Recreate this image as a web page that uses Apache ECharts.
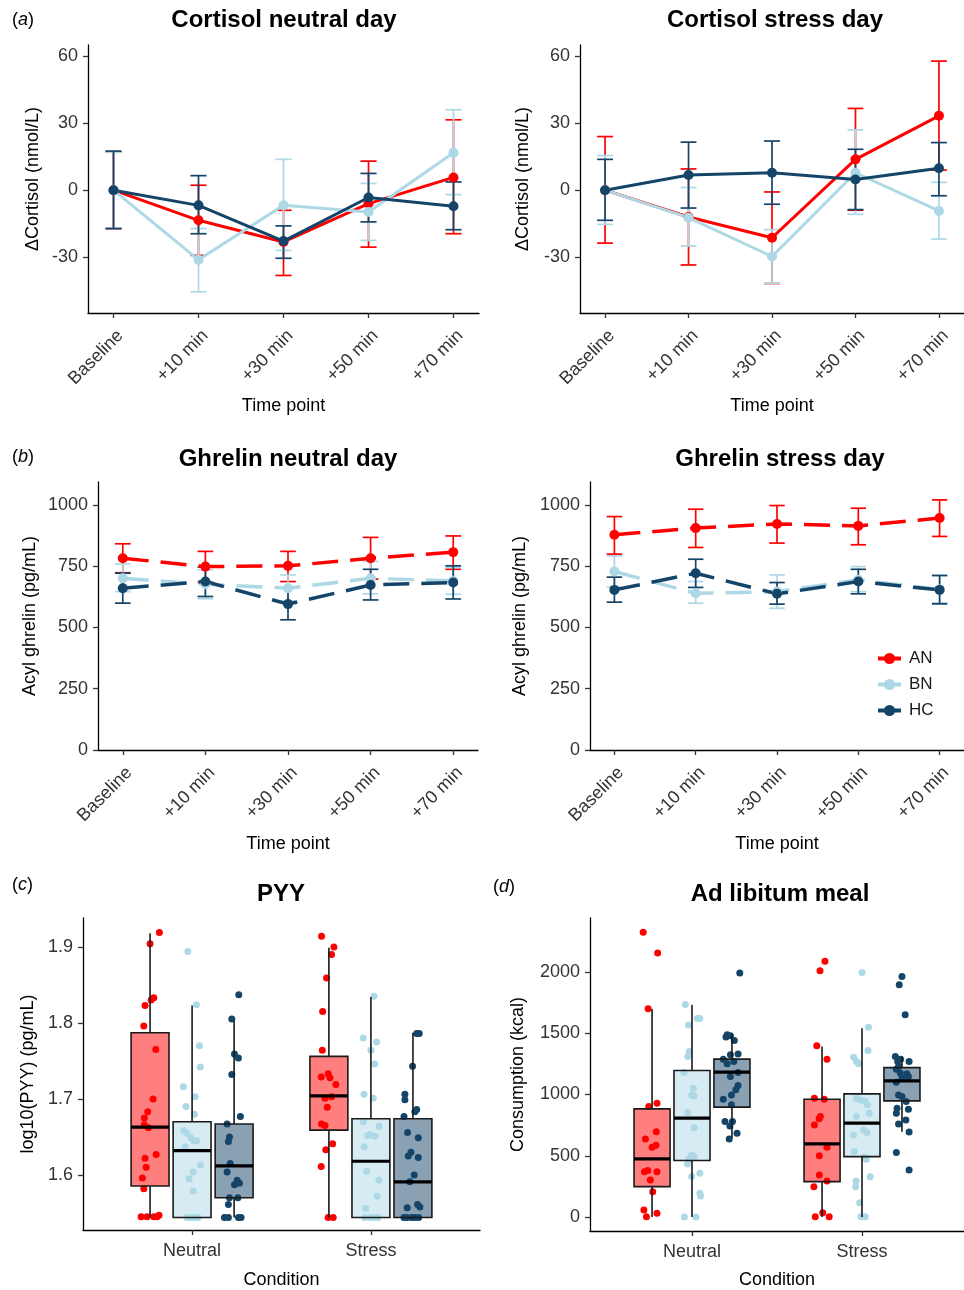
<!DOCTYPE html>
<html><head><meta charset="utf-8">
<script src="https://cdn.jsdelivr.net/npm/echarts@6/dist/echarts.min.js"></script>
<style>html,body{margin:0;padding:0;background:#fff}#c{width:964px;height:1290px}</style>
</head><body><div id="c"></div>
<script>
// ---------- categories / ticks ----------
const timepoints = ['Baseline', '+10 min', '+30 min', '+50 min', '+70 min'];
const conditions = ['Neutral', 'Stress'];
const groups = ['AN', 'BN', 'HC'];
const cortTicks = [-30, 0, 30, 60];
const ghrelinTicks = [0, 250, 500, 750, 1000];
const pyyTicks = [1.6, 1.7, 1.8, 1.9];
const mealTicks = [0, 500, 1000, 1500, 2000];

// ---------- (a) Cortisol neutral day: mean, lower, upper ----------
const cortNeutral_AN    = [0, -13.5, -23.2, -6, 5.7];
const cortNeutral_AN_lo = [-17.2, -29.2, -38.2, -25.5, -19.5];
const cortNeutral_AN_hi = [17, 2.2, -9, 13, 31.5];
const cortNeutral_BN    = [0, -31.2, -6.8, -9.8, 16.8];
const cortNeutral_BN_lo = [-17, -45.5, -27, -22.5, -2];
const cortNeutral_BN_hi = [17, -17.2, 13.8, 3, 36];
const cortNeutral_HC    = [0, -6.8, -22.8, -3.3, -7.2];
const cortNeutral_HC_lo = [-17.2, -19.5, -30.5, -14.2, -17.7];
const cortNeutral_HC_hi = [17.5, 6.5, -16, 7.5, 3.7];
// ---------- (a) Cortisol stress day ----------
const cortStress_AN    = [0, -12, -21.3, 13.8, 33.3];
const cortStress_AN_lo = [-23.7, -33.5, -41.8, -9, 9];
const cortStress_AN_hi = [24, 9.5, -0.8, 36.6, 57.8];
const cortStress_BN    = [0, -12.3, -29.7, 7.8, -9.3];
const cortStress_BN_lo = [-15.3, -25, -41.7, -10.8, -21.9];
const cortStress_BN_hi = [15.5, 1.2, -17.7, 27, 3.5];
const cortStress_HC    = [0, 6.8, 7.8, 4.8, 9.8];
const cortStress_HC_lo = [-13.5, -8, -6.3, -8.7, -2.5];
const cortStress_HC_hi = [13.8, 21.5, 22, 18.3, 21.3];
// ---------- (b) Ghrelin neutral day ----------
const ghrNeutral_AN    = [782, 748, 751, 782, 807];
const ghrNeutral_AN_lo = [723, 684, 687, 697, 737];
const ghrNeutral_AN_hi = [841, 810, 810, 867, 873];
const ghrNeutral_BN    = [700, 676, 660, 700, 690];
const ghrNeutral_BN_lo = [646, 617, 608, 637, 635];
const ghrNeutral_BN_hi = [759, 735, 714, 769, 745];
const ghrNeutral_HC    = [660, 687, 595, 673, 683];
const ghrNeutral_HC_lo = [599, 626, 531, 612, 616];
const ghrNeutral_HC_hi = [721, 746, 660, 737, 751];
// ---------- (b) Ghrelin stress day ----------
const ghrStress_AN    = [878, 905, 922, 914, 946];
const ghrStress_AN_lo = [799, 826, 844, 837, 871];
const ghrStress_AN_hi = [952, 982, 997, 986, 1020];
const ghrStress_BN    = [728, 639, 646, 694, 655];
const ghrStress_BN_lo = [664, 599, 578, 646, 600];
const ghrStress_BN_hi = [792, 687, 714, 748, 710];
const ghrStress_HC    = [653, 721, 637, 687, 653];
const ghrStress_HC_lo = [603, 663, 595, 637, 596];
const ghrStress_HC_hi = [705, 778, 683, 737, 712];

// ---------- (c) PYY boxplots: [lower whisker, Q1, median, Q3, upper whisker] per condition ----------
const pyyBox_AN = [[1.544, 1.5855, 1.663, 1.787, 1.918], [1.544, 1.659, 1.704, 1.756, 1.899]];
const pyyBox_BN = [[1.544, 1.544, 1.632, 1.670, 1.823], [1.544, 1.544, 1.618, 1.674, 1.834]];
const pyyBox_HC = [[1.544, 1.570, 1.612, 1.667, 1.803], [1.544, 1.544, 1.591, 1.674, 1.787]];
// jittered points: [jitter (category units), value]
const pyyPts_AN_neutral = [[0.052,1.919],[0,1.904],[0.021,1.833],[0.006,1.830],[-0.028,1.823],[-0.035,1.796],[0.032,1.765],[0.017,1.700],[-0.013,1.683],[-0.032,1.675],[-0.032,1.666],[-0.009,1.662],[0.034,1.627],[-0.028,1.622],[-0.022,1.610],[-0.043,1.596],[-0.035,1.582],[-0.05,1.545],[-0.017,1.545],[0.021,1.545],[0.039,1.545],[0.05,1.547]];
const pyyPts_BN_neutral = [[-0.024,1.894],[0.024,1.824],[0.041,1.770],[0.046,1.742],[-0.049,1.716],[0.017,1.703],[-0.034,1.690],[0.013,1.680],[-0.046,1.658],[-0.028,1.655],[0.009,1.645],[0.026,1.645],[-0.007,1.649],[-0.039,1.637],[0.046,1.613],[0.006,1.604],[-0.017,1.595],[0.006,1.579],[-0.028,1.544],[-0.006,1.544],[0.017,1.544],[0.034,1.544]];
const pyyPts_HC_neutral = [[0.026,1.837],[-0.013,1.805],[0.002,1.759],[0.024,1.754],[-0.013,1.732],[0.035,1.677],[-0.039,1.667],[-0.026,1.650],[-0.032,1.644],[-0.022,1.615],[-0.039,1.604],[0.017,1.593],[0.03,1.589],[0.002,1.587],[-0.026,1.570],[0.021,1.570],[-0.032,1.561],[-0.054,1.544],[-0.032,1.544],[0.024,1.544],[0.039,1.544]];
const pyyPts_AN_stress = [[-0.041,1.914],[0.028,1.900],[0.015,1.890],[-0.013,1.859],[-0.035,1.815],[-0.037,1.764],[-0.004,1.733],[-0.043,1.729],[0.006,1.728],[0.039,1.719],[0.015,1.703],[-0.022,1.701],[-0.009,1.689],[-0.041,1.667],[-0.022,1.665],[0.021,1.641],[-0.017,1.633],[-0.043,1.611],[-0.004,1.544],[0.024,1.544]];
const pyyPts_BN_stress = [[0.017,1.835],[-0.043,1.780],[0.032,1.775],[0,1.764],[0.022,1.746],[-0.039,1.706],[0.013,1.701],[-0.043,1.670],[0.046,1.664],[-0.006,1.653],[-0.018,1.652],[0.022,1.651],[-0.037,1.637],[-0.024,1.605],[0.045,1.593],[0.035,1.572],[-0.028,1.556],[-0.034,1.544],[-0.006,1.544],[0.017,1.544],[0.039,1.544]];
const pyyPts_HC_stress = [[0.021,1.786],[0.035,1.786],[-0.002,1.743],[-0.045,1.706],[-0.045,1.699],[0.021,1.686],[0.011,1.683],[-0.05,1.677],[-0.03,1.656],[0.03,1.649],[-0.011,1.630],[-0.026,1.625],[0.03,1.623],[0.007,1.600],[-0.017,1.591],[-0.032,1.557],[0.026,1.561],[0.039,1.558],[-0.05,1.544],[-0.032,1.544],[-0.007,1.544],[0.011,1.544],[0.032,1.544]];

// ---------- (d) Ad libitum meal boxplots ----------
const mealBox_AN = [[0, 248, 474, 883, 1698], [0, 289, 597, 962, 1392]];
const mealBox_BN = [[0, 461, 807, 1196, 1733], [0, 493, 766, 1005, 1542]];
const mealBox_HC = [[648, 897, 1183, 1289, 1488], [697, 948, 1112, 1220, 1310]];
const mealPts_AN_neutral = [[-0.052,2324],[0.033,2156],[-0.023,1700],[-0.019,902],[0.029,929],[0.025,697],[-0.039,638],[0.023,586],[0,570],[-0.045,370],[-0.025,379],[0.029,370],[-0.01,302],[0.004,207],[-0.048,57],[0.029,30],[-0.033,3]];
const mealPts_BN_neutral = [[-0.039,1735],[0.031,1621],[0.046,1621],[-0.021,1567],[-0.016,1352],[-0.025,1310],[-0.046,1180],[0.008,1052],[-0.002,997],[0.012,989],[-0.025,853],[0.013,728],[-0.002,507],[0.013,493],[-0.019,472],[-0.027,433],[0.046,357],[-0.002,330],[0.046,194],[0.05,172],[-0.045,0],[0.023,0]];
const mealPts_HC_neutral = [[0.046,1992],[-0.028,1488],[-0.009,1479],[0.014,1441],[-0.035,1469],[-0.009,1324],[0.036,1330],[-0.051,1289],[0.011,1270],[-0.028,1251],[0.036,1180],[-0.009,1147],[0.036,1073],[0.023,1038],[-0.051,962],[-0.003,997],[-0.003,916],[-0.041,779],[0.003,779],[-0.012,744],[0.03,684],[-0.016,638]];
const mealPts_AN_stress = [[0.017,2087],[-0.012,2011],[-0.031,1398],[0.029,1289],[-0.045,970],[0.013,962],[-0.01,820],[-0.017,803],[-0.045,752],[0.029,570],[-0.016,501],[-0.016,343],[0.029,294],[-0.048,248],[-0.04,3],[0.042,3],[0.004,35]];
const mealPts_BN_stress = [[0,1997],[0.038,1550],[0.035,1359],[-0.049,1305],[-0.033,1270],[-0.02,1251],[-0.033,970],[-0.01,956],[0.019,943],[0.032,916],[0.042,848],[-0.033,820],[0.009,711],[0.029,689],[-0.049,670],[-0.045,534],[0.025,472],[0.013,488],[0.048,329],[-0.035,294],[-0.037,248],[-0.014,117],[-0.006,3],[0.019,3]];
const mealPts_HC_stress = [[0,1964],[-0.016,1896],[0.019,1651],[-0.039,1310],[-0.025,1270],[-0.008,1289],[0.042,1270],[-0.02,1229],[-0.033,1207],[-0.01,1175],[0.029,1169],[0,1135],[-0.033,1101],[0.038,1147],[-0.02,997],[0,983],[0.025,943],[-0.029,888],[0.038,880],[-0.033,848],[0.023,793],[-0.02,760],[0.042,695],[-0.033,526],[0.042,384]];

// ---------- styling ----------
const FF = '"Liberation Sans", Arial, Helvetica, sans-serif';
const COLORS = { AN: '#FF0000', BN: '#ADD8E6', HC: '#154469' };
const FILLS = { AN: 'rgba(255,0,0,0.5)', BN: 'rgba(173,216,230,0.5)', HC: 'rgba(21,68,105,0.5)' };
const CAP = 0.19, DODGE = 0.235, BOXW = 0.212, LABEL_SHIFT = 0.08;
const TICKCOL = '#333';

const grids = [
  { left: 88, top: 45, width: 391, height: 268 },
  { left: 580, top: 45, width: 390, height: 268 },
  { left: 98, top: 482, width: 380, height: 268 },
  { left: 590, top: 482, width: 380, height: 268 },
  { left: 83, top: 918, width: 397, height: 312 },
  { left: 590, top: 918, width: 380, height: 313 }
];

const axisLine = { show: true, onZero: false, lineStyle: { color: '#000', width: 1.3 } };
const tickStyle = { color: '#333', width: 1.3 };
const nameStyle = { fontSize: 18, color: '#000', fontFamily: FF };

const xAxes = [];
const xMain = [];
for (let gi = 0; gi < 4; gi++) {
  xMain.push(xAxes.length);
  xAxes.push({ gridIndex: gi, type: 'value', position: 'bottom', min: -0.3, max: 4.3,
    axisLine, axisTick: { show: true, customValues: [0, 1, 2, 3, 4], length: 5, lineStyle: tickStyle },
    axisLabel: { show: false }, splitLine: { show: false },
    name: 'Time point', nameLocation: 'middle', nameGap: gi < 2 ? 84 : 85, nameMoveOverlap: false, nameTextStyle: nameStyle });
  xAxes.push({ gridIndex: gi, type: 'value', position: 'bottom', min: -0.3 - LABEL_SHIFT, max: 4.3 - LABEL_SHIFT,
    axisLine: { show: false, onZero: false }, axisTick: { show: false }, splitLine: { show: false },
    axisLabel: { show: true, customValues: [0, 1, 2, 3, 4], rotate: 45, margin: 20, fontSize: 18, color: TICKCOL, fontFamily: FF,
      formatter: v => timepoints[Math.round(v)] } });
}
for (let gi = 4; gi < 6; gi++) {
  xMain.push(xAxes.length);
  xAxes.push({ gridIndex: gi, type: 'value', position: 'bottom', min: gi === 4 ? -0.61 : -0.6, max: gi === 4 ? 1.61 : 1.6,
    axisLine, axisTick: { show: true, customValues: [0, 1], length: 5, lineStyle: tickStyle },
    axisLabel: { show: true, customValues: [0, 1], margin: 12, fontSize: 18, color: TICKCOL, fontFamily: FF,
      formatter: v => conditions[Math.round(v)] },
    splitLine: { show: false },
    name: 'Condition', nameLocation: 'middle', nameGap: gi === 4 ? 41 : 40, nameMoveOverlap: false, nameTextStyle: nameStyle });
}

function yAx(gi, min, max, ticks, name, gap, fmt) {
  return { gridIndex: gi, type: 'value', min, max, name, nameLocation: 'middle', nameGap: gap, nameMoveOverlap: false,
    nameTextStyle: nameStyle, axisLine,
    axisTick: { show: true, customValues: ticks, length: 5, lineStyle: tickStyle },
    axisLabel: { show: true, customValues: ticks, fontSize: 18, color: TICKCOL, margin: 10, fontFamily: FF, formatter: fmt },
    splitLine: { show: false } };
}
const yAxes = [
  yAx(0, -55, 65, cortTicks, 'ΔCortisol (nmol/L)', 46, v => String(v)),
  yAx(1, -55, 65, cortTicks, 'ΔCortisol (nmol/L)', 48, v => String(v)),
  yAx(2, 0, 1093, ghrelinTicks, 'Acyl ghrelin (pg/mL)', 59, v => String(v)),
  yAx(3, 0, 1093, ghrelinTicks, 'Acyl ghrelin (pg/mL)', 61, v => String(v)),
  yAx(4, 1.5276, 1.938, pyyTicks, 'log10(PYY) (pg/mL)', 46, v => v.toFixed(1)),
  yAx(5, -114, 2441, mealTicks, 'Consumption (kcal)', 63, v => String(v))
];

// ---------- series ----------
const series = [];
const linePanels = [
  { gi: 0, dashed: false, d: { AN: [cortNeutral_AN, cortNeutral_AN_lo, cortNeutral_AN_hi], BN: [cortNeutral_BN, cortNeutral_BN_lo, cortNeutral_BN_hi], HC: [cortNeutral_HC, cortNeutral_HC_lo, cortNeutral_HC_hi] } },
  { gi: 1, dashed: false, d: { AN: [cortStress_AN, cortStress_AN_lo, cortStress_AN_hi], BN: [cortStress_BN, cortStress_BN_lo, cortStress_BN_hi], HC: [cortStress_HC, cortStress_HC_lo, cortStress_HC_hi] } },
  { gi: 2, dashed: true, d: { AN: [ghrNeutral_AN, ghrNeutral_AN_lo, ghrNeutral_AN_hi], BN: [ghrNeutral_BN, ghrNeutral_BN_lo, ghrNeutral_BN_hi], HC: [ghrNeutral_HC, ghrNeutral_HC_lo, ghrNeutral_HC_hi] } },
  { gi: 3, dashed: true, d: { AN: [ghrStress_AN, ghrStress_AN_lo, ghrStress_AN_hi], BN: [ghrStress_BN, ghrStress_BN_lo, ghrStress_BN_hi], HC: [ghrStress_HC, ghrStress_HC_lo, ghrStress_HC_hi] } }
];

function errSeries(gi, color, lo, hi) {
  return { type: 'custom', name: 'err', xAxisIndex: xMain[gi], yAxisIndex: gi, clip: false, silent: true, z: 2,
    data: lo.map((v, i) => [i, v, hi[i]]),
    renderItem(params, api) {
      const x = api.value(0), a = api.value(1), b = api.value(2);
      const p1 = api.coord([x, a]), p2 = api.coord([x, b]);
      const l1 = api.coord([x - CAP / 2, a]), r1 = api.coord([x + CAP / 2, a]);
      const l2 = api.coord([x - CAP / 2, b]), r2 = api.coord([x + CAP / 2, b]);
      const st = { stroke: color, lineWidth: 1.7 };
      return { type: 'group', children: [
        { type: 'line', shape: { x1: p1[0], y1: p1[1], x2: p2[0], y2: p2[1] }, style: st },
        { type: 'line', shape: { x1: l1[0], y1: l1[1], x2: r1[0], y2: r1[1] }, style: st },
        { type: 'line', shape: { x1: l2[0], y1: l2[1], x2: r2[0], y2: r2[1] }, style: st }
      ] };
    } };
}

linePanels.forEach(p => {
  groups.forEach(g => {
    const [mean, lo, hi] = p.d[g];
    series.push(errSeries(p.gi, COLORS[g], lo, hi));
    series.push({ type: 'line', name: g, xAxisIndex: xMain[p.gi], yAxisIndex: p.gi, z: 2,
      data: mean.map((v, i) => [i, v]), symbol: 'circle', symbolSize: 10, silent: true,
      itemStyle: { color: COLORS[g], borderWidth: 0 },
      lineStyle: { color: COLORS[g], width: p.dashed ? 3.5 : 3, type: p.dashed ? [26, 12] : 'solid' } });
  });
});

const boxPanels = [
  { gi: 4, box: { AN: pyyBox_AN, BN: pyyBox_BN, HC: pyyBox_HC },
    pts: { AN: [pyyPts_AN_neutral, pyyPts_AN_stress], BN: [pyyPts_BN_neutral, pyyPts_BN_stress], HC: [pyyPts_HC_neutral, pyyPts_HC_stress] } },
  { gi: 5, box: { AN: mealBox_AN, BN: mealBox_BN, HC: mealBox_HC },
    pts: { AN: [mealPts_AN_neutral, mealPts_AN_stress], BN: [mealPts_BN_neutral, mealPts_BN_stress], HC: [mealPts_HC_neutral, mealPts_HC_stress] } }
];

boxPanels.forEach(p => {
  groups.forEach((g, k) => {
    const off = (k - 1) * DODGE;
    const pts = [];
    p.pts[g].forEach((arr, ci) => arr.forEach(pt => pts.push([ci + off + pt[0], pt[1]])));
    series.push({ type: 'scatter', name: g + ' points', xAxisIndex: xMain[p.gi], yAxisIndex: p.gi, z: 2, silent: true,
      symbol: 'circle', symbolSize: 7, itemStyle: { color: COLORS[g], opacity: 1 }, data: pts });
  });
  groups.forEach((g, k) => {
    const off = (k - 1) * DODGE;
    series.push({ type: 'custom', name: g + ' box', xAxisIndex: xMain[p.gi], yAxisIndex: p.gi, z: 3, silent: true, clip: false,
      data: p.box[g].map((s, ci) => [ci, ...s]),
      renderItem(params, api) {
        const xc = api.value(0) + off;
        const lw = api.value(1), q1 = api.value(2), md = api.value(3), q3 = api.value(4), hw = api.value(5);
        const bl = api.coord([xc - BOXW / 2, q1]), tr = api.coord([xc + BOXW / 2, q3]);
        const wTop = api.coord([xc, hw]), wQ3 = api.coord([xc, q3]);
        const wQ1 = api.coord([xc, q1]), wLow = api.coord([xc, lw]);
        const mL = api.coord([xc - BOXW / 2, md]), mR = api.coord([xc + BOXW / 2, md]);
        const ls = { stroke: '#1a1a1a', lineWidth: 1.6 };
        return { type: 'group', children: [
          { type: 'line', shape: { x1: wTop[0], y1: wTop[1], x2: wQ3[0], y2: wQ3[1] }, style: ls },
          { type: 'line', shape: { x1: wQ1[0], y1: wQ1[1], x2: wLow[0], y2: wLow[1] }, style: ls },
          { type: 'rect', shape: { x: bl[0], y: tr[1], width: tr[0] - bl[0], height: bl[1] - tr[1] },
            style: { fill: FILLS[g], stroke: '#1a1a1a', lineWidth: 1.6 } },
          { type: 'line', shape: { x1: mL[0], y1: mL[1], x2: mR[0], y2: mR[1] }, style: { stroke: '#000', lineWidth: 3.2 } }
        ] };
      } });
  });
});

// ---------- texts ----------
function tt(text, x, y) {
  return { type: 'text', x, y, silent: true, style: { text, fontSize: 24, fontWeight: 'bold', fontFamily: FF, fill: '#000', align: 'center', verticalAlign: 'middle' } };
}
function pl(letter, x, y) {
  return { type: 'text', x, y, silent: true, style: { text: '{n|(}{i|' + letter + '}{n|)}', fontSize: 18, fontFamily: FF, fill: '#000', align: 'left', verticalAlign: 'middle',
    rich: { n: { fontSize: 18, fontFamily: FF, fill: '#000' }, i: { fontSize: 18, fontFamily: FF, fontStyle: 'italic', fill: '#000' } } } };
}
const graphics = [
  pl('a', 12, 20), pl('b', 12, 457), pl('c', 12, 885), pl('d', 493, 887),
  tt('Cortisol neutral day', 284, 20), tt('Cortisol stress day', 775, 20),
  tt('Ghrelin neutral day', 288, 459), tt('Ghrelin stress day', 780, 459),
  tt('PYY', 281, 894), tt('Ad libitum meal', 780, 894)
];

const chart = echarts.init(document.getElementById('c'), null, { renderer: 'canvas', width: 964, height: 1290 });
chart.setOption({
  animation: false,
  backgroundColor: '#fff',
  textStyle: { fontFamily: FF },
  grid: grids,
  xAxis: xAxes,
  yAxis: yAxes,
  legend: { data: groups, orient: 'vertical', left: 871, top: 645, itemWidth: 23, itemHeight: 14, itemGap: 9,
    selectedMode: false, lineStyle: { width: 4 }, textStyle: { fontSize: 17, color: '#1a1a1a', fontFamily: FF, padding: [0, 0, 0, 3] } },
  graphic: graphics,
  series
});
</script></body></html>
